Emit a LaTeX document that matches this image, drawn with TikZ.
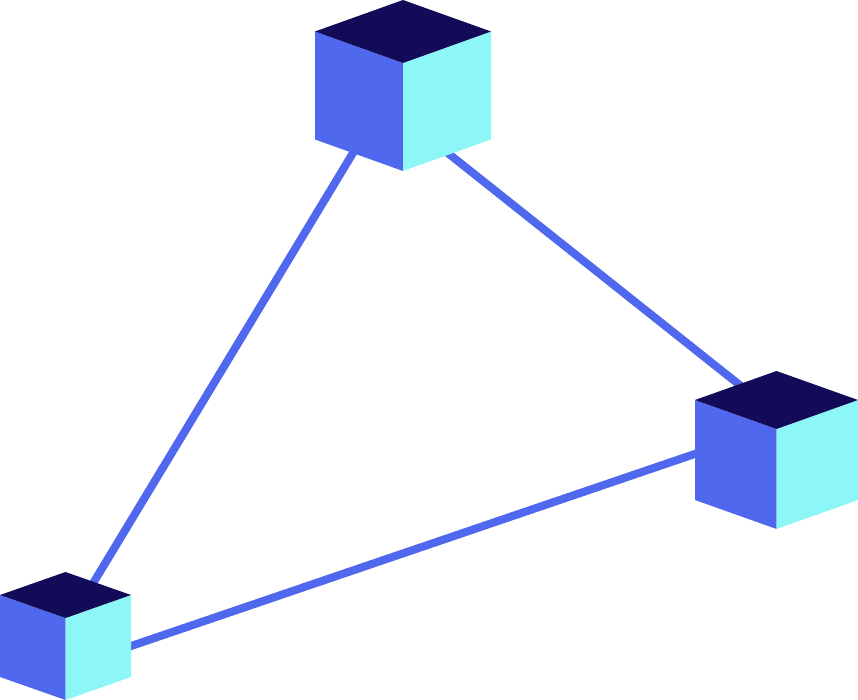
\documentclass[tikz,border=0pt]{standalone}
\definecolor{cubetop}{RGB}{18,11,88}
\definecolor{cubeleft}{RGB}{80,104,238}
\definecolor{cuberight}{RGB}{140,247,246}
\tikzset{
  link/.style={draw=cubeleft, line width=8pt},
  topface/.style={fill=cubetop},
  leftface/.style={fill=cubeleft},
  rightface/.style={fill=cuberight}
}
% #1,#2 = top vertex; #3 half width; #4 rhombus half height; #5 edge height
\newcommand\isocube[5]{%
  \fill[leftface] (#1,#2+#4) ++(-#3,0) -- ++(#3,#4) -- ++(0,#5) -- ++(-#3,-#4) -- cycle;
  \fill[rightface] (#1,#2+2*#4) -- ++(#3,-#4) -- ++(0,#5) -- ++(-#3,#4) -- cycle;
  \fill[topface] (#1,#2) -- ++(#3,#4) -- ++(-#3,#4) -- ++(-#3,-#4) -- cycle;
}
\begin{document}
\begin{tikzpicture}[x=1pt,y=-1pt]
  \useasboundingbox (0,0) rectangle (858,700);
  % connector end points (hidden inside the cubes)
  \coordinate (topA) at (372.9,120);
  \coordinate (leftA) at (70.9,620);
  \coordinate (topB) at (430,138.9);
  \coordinate (rightB) at (760,401.2);
  \coordinate (leftC) at (100,656.6);
  \coordinate (rightC) at (720,445.4);
  \draw[link] (topA) -- (leftA);
  \draw[link] (topB) -- (rightB);
  \draw[link] (leftC) -- (rightC);
  % cubes
  \isocube{403}{0}{88}{31.5}{108}
  \isocube{776.5}{371}{81.5}{29}{100}
  \isocube{65.5}{572}{65.5}{23}{82}
\end{tikzpicture}
\end{document}
